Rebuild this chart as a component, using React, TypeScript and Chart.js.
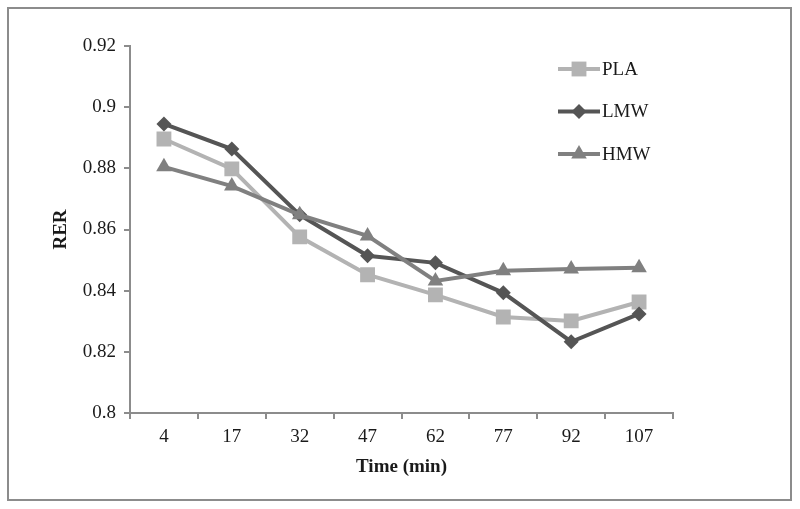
import React, { useEffect, useRef } from "react";
import { Chart, registerables } from "chart.js";

Chart.register(...registerables);

const categories = ["4", "17", "32", "47", "62", "77", "92", "107"];
const plaValues = [0.8896, 0.8798, 0.8576, 0.8452, 0.8386, 0.8314, 0.8301, 0.8363];
const lmwValues = [0.8945, 0.8863, 0.8648, 0.8514, 0.8491, 0.8393, 0.8233, 0.8324];
const hmwValues = [0.8805, 0.8742, 0.8648, 0.8579, 0.8432, 0.8465, 0.8471, 0.8475];
const yTicks = [0.8, 0.82, 0.84, 0.86, 0.88, 0.9, 0.92];

const seriesNames = ["PLA", "LMW", "HMW"];
const seriesColors = ["#b3b3b3", "#555555", "#808080"];
const seriesStyles = ["rect", "rectRot", "triangle"];
const seriesRadius = [10.5, 7.5, 9];

const FONT = "'Liberation Serif', 'Times New Roman', serif";
const TEXT = "#1a1a1a";

function drawMarker(ctx: CanvasRenderingContext2D, style: string, r: number, x: number, y: number) {
  ctx.beginPath();
  if (style === "rect") {
    const s = Math.SQRT1_2 * r;
    ctx.rect(x - s, y - s, 2 * s, 2 * s);
  } else if (style === "rectRot") {
    ctx.moveTo(x - r, y);
    ctx.lineTo(x, y - r);
    ctx.lineTo(x + r, y);
    ctx.lineTo(x, y + r);
    ctx.closePath();
  } else {
    let rad = 0;
    ctx.moveTo(x + Math.sin(rad) * r, y - Math.cos(rad) * r);
    rad += (2 * Math.PI) / 3;
    ctx.lineTo(x + Math.sin(rad) * r, y - Math.cos(rad) * r);
    rad += (2 * Math.PI) / 3;
    ctx.lineTo(x + Math.sin(rad) * r, y - Math.cos(rad) * r);
    ctx.closePath();
  }
  ctx.fill();
}

const frameAndLegend = {
  id: "frameAndLegend",
  beforeDraw(chart: any) {
    const ctx = chart.ctx as CanvasRenderingContext2D;
    ctx.save();
    ctx.fillStyle = "#ffffff";
    ctx.fillRect(0, 0, chart.width, chart.height);
    ctx.strokeStyle = "#8c8c8c";
    ctx.lineWidth = 2;
    ctx.strokeRect(8, 8, chart.width - 17, chart.height - 17);
    ctx.restore();
  },
  afterDraw(chart: any) {
    const ctx = chart.ctx as CanvasRenderingContext2D;
    const area = chart.chartArea;
    const x0 = area.left + 428;
    const x1 = x0 + 42;
    ctx.save();
    chart.data.datasets.forEach((ds: any, i: number) => {
      const y = area.top + 23 + i * 42.5;
      ctx.strokeStyle = ds.borderColor;
      ctx.lineWidth = 4;
      ctx.beginPath();
      ctx.moveTo(x0, y);
      ctx.lineTo(x1, y);
      ctx.stroke();
      ctx.fillStyle = ds.pointBackgroundColor;
      drawMarker(ctx, ds.pointStyle, ds.pointRadius, (x0 + x1) / 2, y);
      ctx.fillStyle = TEXT;
      ctx.font = `19px ${FONT}`;
      ctx.textBaseline = "middle";
      ctx.textAlign = "left";
      ctx.fillText(ds.label, x1 + 2, y + 1);
    });
    ctx.restore();
  },
};

export default function App() {
  const canvasRef = useRef<HTMLCanvasElement | null>(null);

  useEffect(() => {
    document.body.style.margin = "0";
    const canvas = canvasRef.current;
    if (!canvas) return;
    const valueSets = [plaValues, lmwValues, hmwValues];
    const chart = new Chart(canvas, {
      type: "line",
      data: {
        labels: categories,
        datasets: valueSets.map((vals, i) => ({
          label: seriesNames[i],
          data: vals,
          borderColor: seriesColors[i],
          backgroundColor: seriesColors[i],
          pointBackgroundColor: seriesColors[i],
          pointBorderColor: seriesColors[i],
          pointBorderWidth: 0,
          pointStyle: seriesStyles[i],
          pointRadius: seriesRadius[i],
          borderWidth: 4,
          tension: 0,
          fill: false,
          order: 3 - i,
        })),
      },
      options: {
        animation: false,
        responsive: true,
        maintainAspectRatio: false,
        layout: { padding: { left: 0, top: 46, right: 127, bottom: 0 } },
        plugins: {
          legend: { display: false },
          tooltip: { enabled: false },
        },
        scales: {
          x: {
            type: "category",
            offset: true,
            grid: {
              display: true,
              drawOnChartArea: false,
              drawTicks: true,
              tickLength: 6,
              color: "#8c8c8c",
              lineWidth: 2,
              offset: true,
            },
            border: { display: true, color: "#8c8c8c", width: 2 },
            ticks: { color: TEXT, font: { family: FONT, size: 19 }, padding: 7, maxRotation: 0 },
            title: {
              display: true,
              text: "Time (min)",
              color: TEXT,
              font: { family: FONT, size: 19, weight: "bold" },
              padding: { top: 0, bottom: 31 },
            },
            afterFit(scale: any) {
              scale.height = 96;
            },
          },
          y: {
            min: 0.8,
            max: 0.92,
            grid: {
              display: true,
              drawOnChartArea: false,
              drawTicks: true,
              tickLength: 6,
              color: "#8c8c8c",
              lineWidth: 2,
            },
            border: { display: true, color: "#8c8c8c", width: 2 },
            afterBuildTicks(scale: any) {
              scale.ticks = yTicks.map((v) => ({ value: v }));
            },
            ticks: {
              color: TEXT,
              font: { family: FONT, size: 19 },
              padding: 8,
              callback: (v: any) => String(Number(Number(v).toFixed(2))),
            },
            title: {
              display: true,
              text: "RER",
              color: TEXT,
              font: { family: FONT, size: 19, weight: "bold" },
              padding: { top: 50, bottom: 0 },
            },
            afterFit(scale: any) {
              scale.width = 130;
            },
          },
        },
      },
      plugins: [frameAndLegend],
    });
    return () => chart.destroy();
  }, []);

  return (
    <div style={{ position: "relative", width: 800, height: 509 }}>
      <canvas ref={canvasRef} />
    </div>
  );
}
